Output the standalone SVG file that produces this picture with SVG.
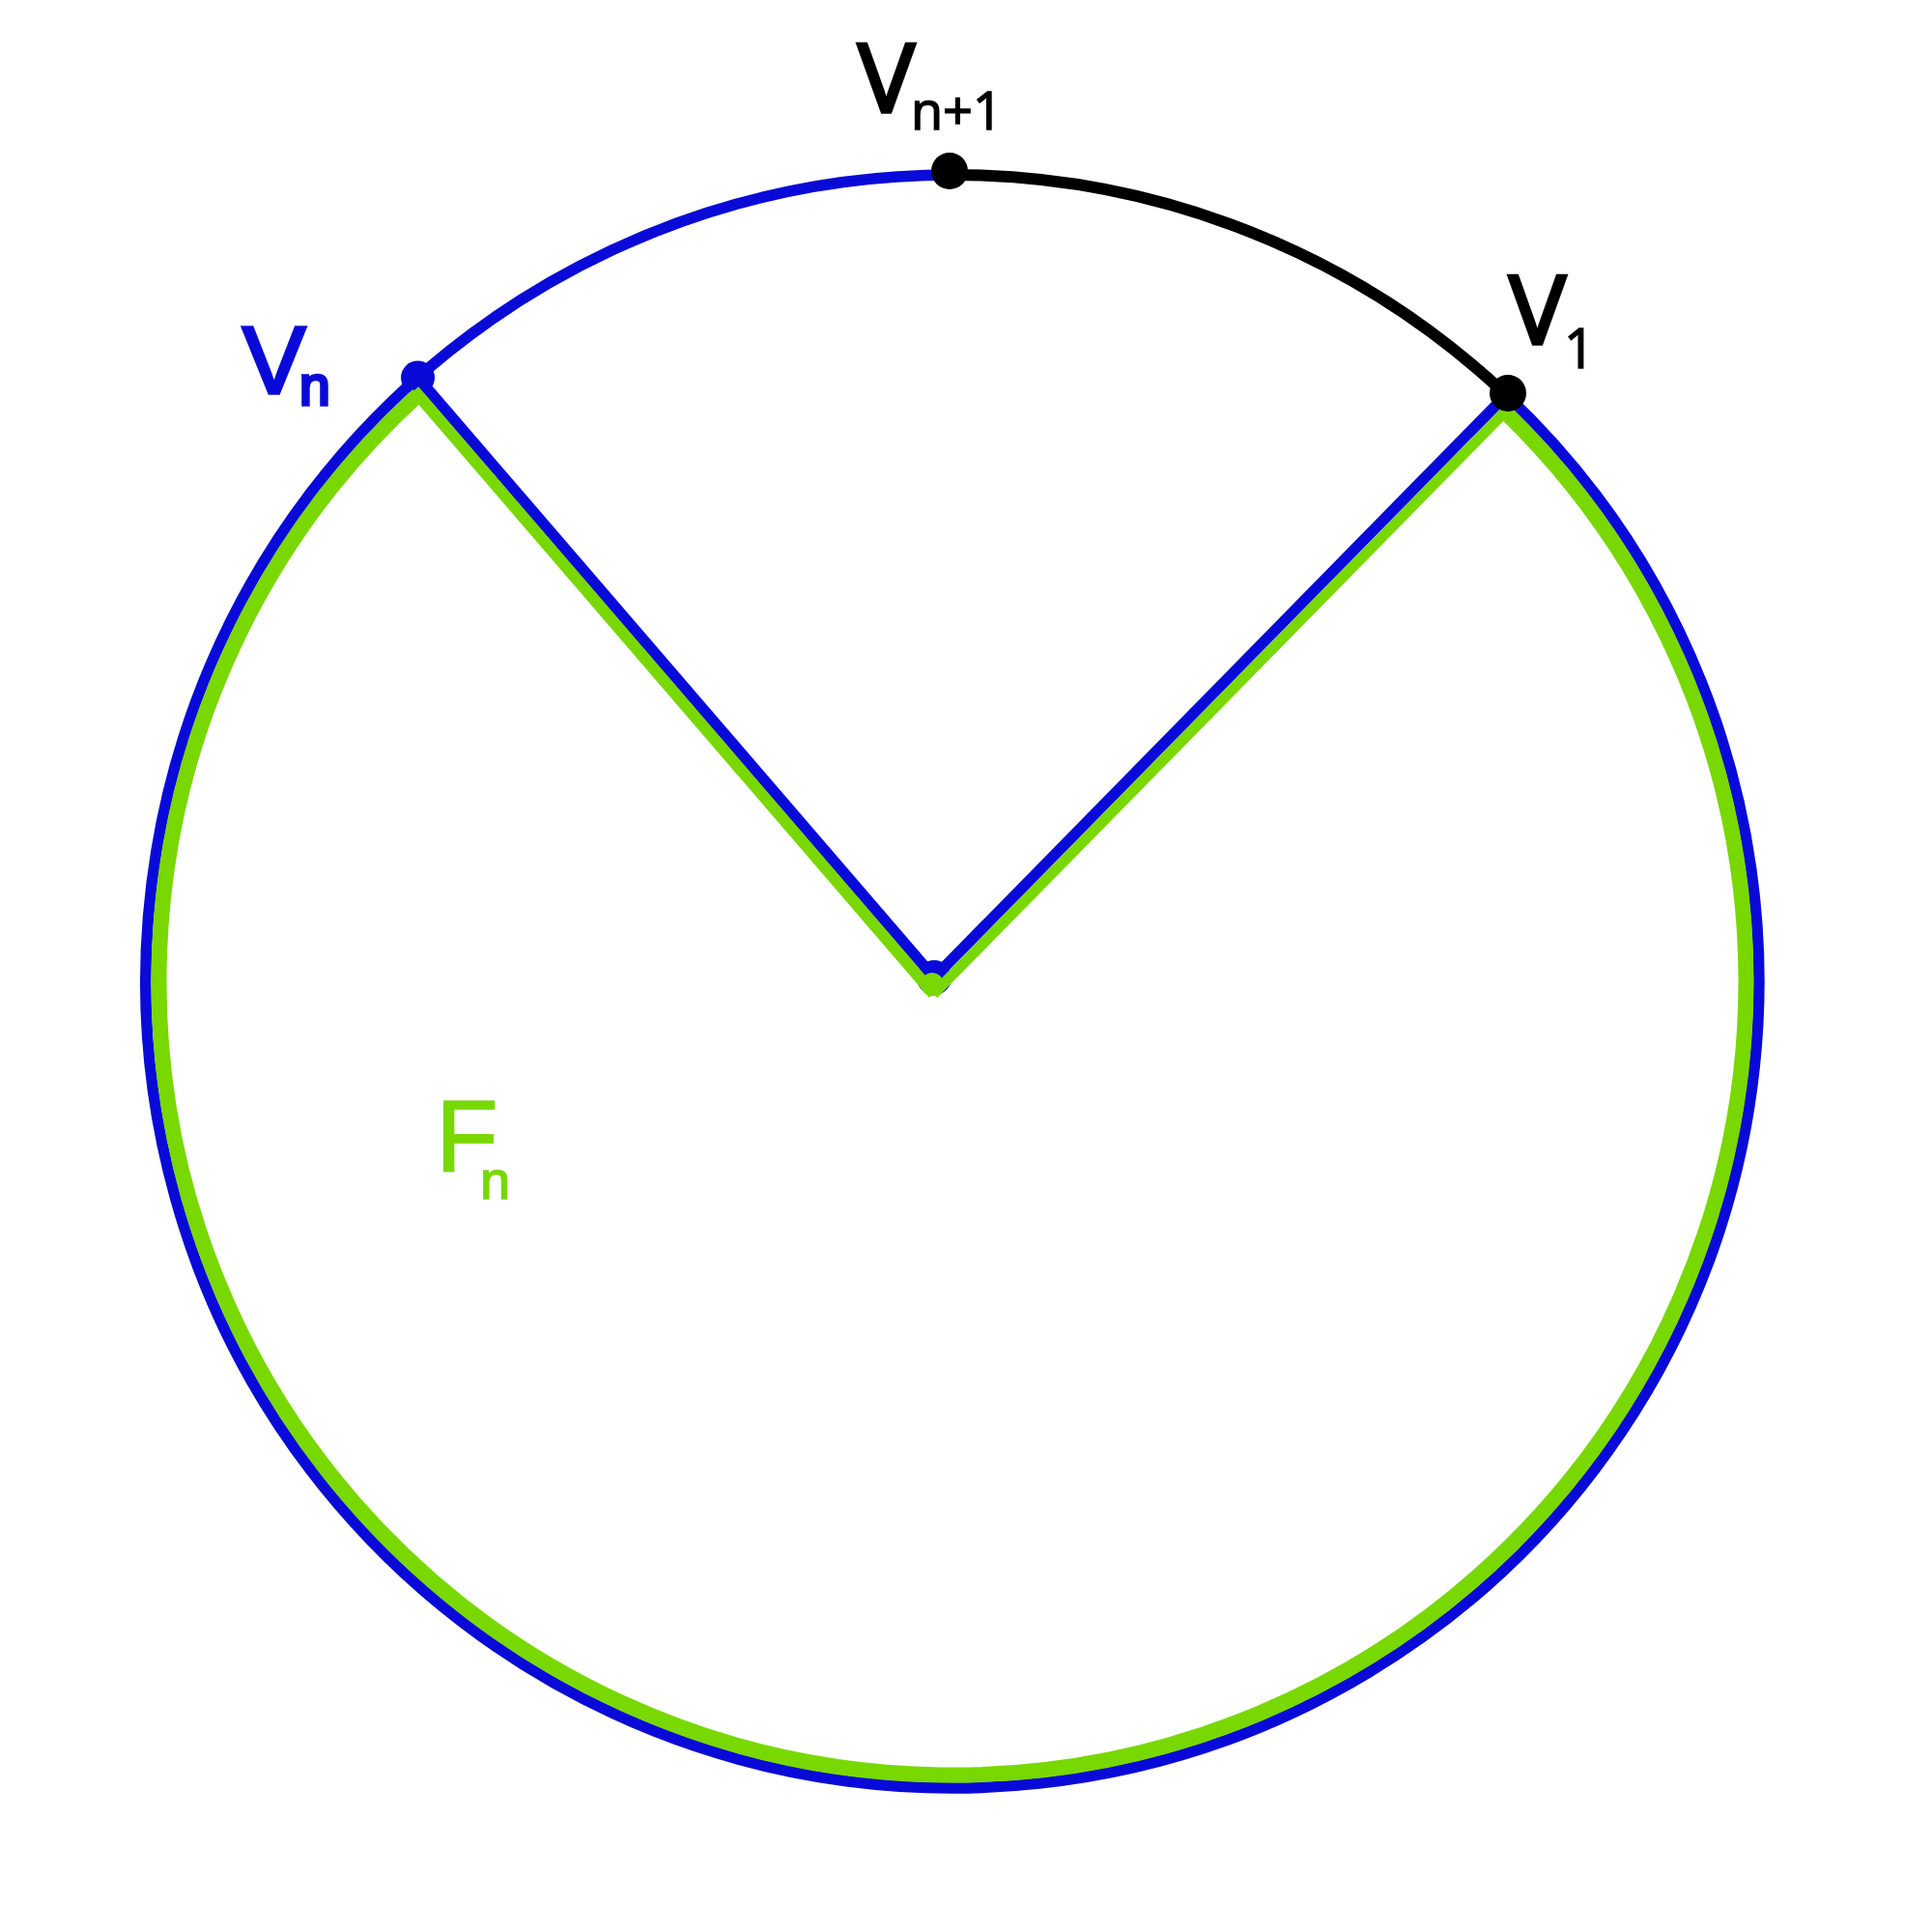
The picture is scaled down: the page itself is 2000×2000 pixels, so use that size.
<svg xmlns="http://www.w3.org/2000/svg" width="2000" height="2000" viewBox="0 0 2000 2000">
  <style>
    .blue { fill: none; stroke: #0a0ad8; stroke-width: 11.5; }
    .black { fill: none; stroke: #000000; stroke-width: 12; }
    .green { fill: none; stroke: #78d800; stroke-linejoin: miter; stroke-miterlimit: 10; stroke-linecap: butt; }
    .lbl { font-family: "Open Sans", "DejaVu Sans", sans-serif; fill: #000000; stroke: #000000; stroke-width: 3.5; }
    .sub { stroke-width: 1.5; }
    .lbl2 { font-family: "Liberation Sans", Arial, sans-serif; }
    .lblb { fill: #0a0ad8; stroke: #0a0ad8; stroke-width: 3.5; }
    .lblg { fill: #78d800; stroke: #78d800; stroke-width: 1.5; }
  </style>
  <rect x="0" y="0" width="2000" height="2000" fill="#ffffff"/>

  <g id="connectors">
    <path class="blue" d="M 1559.2 408.9 A 835 835 0 1 1 986 181"/>
    <path class="black" d="M 986 181 A 835 835 0 0 1 1559.2 408.9"/>
    <path class="blue" stroke-linejoin="miter" d="M 432.5 391 L 967 1012 L 1561 407"/>
  </g>

  <g id="node-vn">
    <circle cx="432.5" cy="391" r="17.5" fill="#0a0ad8"/>
  </g>
  <g id="node-center">
    <circle cx="967" cy="1012" r="18" fill="#0a0ad8"/>
  </g>

  <g id="face-fn">
    <path class="green" stroke-width="12" d="M 1557.9 426.3 A 821.5 821.5 0 1 1 432.7 408.8 L 966.4 1028.9"/>
    <path class="green" stroke-width="11" d="M 966.4 1028.9 L 1557.9 426.3"/>
    <path class="green" stroke-width="16" d="M 1557.9 426.3 A 821.5 821.5 0 1 1 432.7 408.8"/>
    <circle cx="965" cy="1019" r="12" fill="#78d800"/>
    <text class="lbl2 lblg" x="451" y="1213" font-size="106">F</text>
    <text class="lbl2 lblg" x="497" y="1241" font-size="56">n</text>
  </g>

  <g id="node-vn1">
    <circle cx="983" cy="177" r="19" fill="#000000"/>
    <text class="lbl" x="888" y="116" font-size="99">V</text>
    <text class="lbl sub" x="943" y="134" font-size="54">n+1</text>
  </g>

  <g id="node-v1">
    <circle cx="1561" cy="407" r="19" fill="#000000"/>
    <text class="lbl" x="1562" y="356" font-size="99">V</text>
    <text class="lbl sub" x="1619" y="381" font-size="56">1</text>
  </g>

  <g id="label-vn">
    <text class="lbl2 lblb" x="251" y="407" font-size="98">V</text>
    <text class="lbl2 lblb" x="310" y="419" font-size="57">n</text>
  </g>
</svg>
